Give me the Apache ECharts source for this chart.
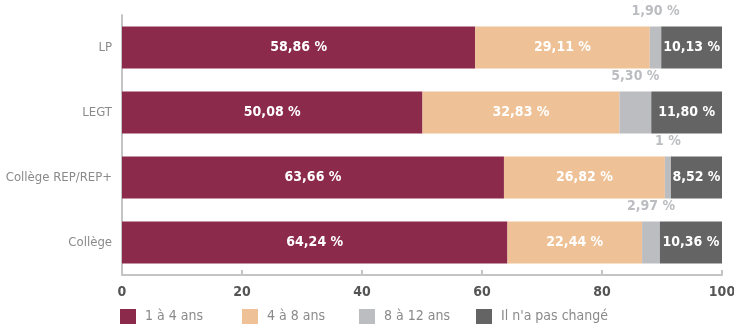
<!DOCTYPE html>
<html><head><meta charset="utf-8">
<script src="https://cdn.jsdelivr.net/npm/echarts@6/dist/echarts.min.js"></script>
<style>html,body{margin:0;padding:0;background:#fff}#c{width:734px;height:325px}</style>
</head><body><div id="c"></div>
<script>
const categories = ['Collège', 'Collège REP/REP+', 'LEGT', 'LP'];
const seriesNames = ['1 à 4 ans', '4 à 8 ans', '8 à 12 ans', "Il n'a pas changé"];
const s1 = [64.24, 63.66, 50.08, 58.86];
const s2 = [22.44, 26.82, 32.83, 29.11];
const s3 = [2.97, 1, 5.30, 1.90];
const s4 = [10.36, 8.52, 11.80, 10.13];
const l1 = ['64,24 %', '63,66 %', '50,08 %', '58,86 %'];
const l2 = ['22,44 %', '26,82 %', '32,83 %', '29,11 %'];
const l3 = ['2,97 %', '1 %', '5,30 %', '1,90 %'];
const l4 = ['10,36 %', '8,52 %', '11,80 %', '10,13 %'];
const xTicks = [0, 20, 40, 60, 80, 100];

const FONT = "'DejaVu Sans Condensed', sans-serif";
const colors = ['#8b2a4b', '#eec196', '#bcbdc1', '#646464'];
const values = [s1, s2, s3, s4];
const labels = [l1, l2, l3, l4];

const chart = echarts.init(document.getElementById('c'), null, {renderer: 'canvas'});
const series = values.map((v, i) => ({
  name: seriesNames[i],
  type: 'bar',
  stack: 'total',
  barWidth: 42,
  itemStyle: {color: colors[i]},
  label: {
    show: true,
    position: i === 2 ? 'top' : 'inside',
    distance: 8,
    color: i === 2 ? '#bcbdc1' : '#ffffff',
    fontFamily: FONT,
    fontWeight: 'bold',
    fontSize: 14,
    formatter: p => labels[i][p.dataIndex]
  },
  data: v
}));
const legendLefts = [120, 242, 359, 476];
const legends = seriesNames.map((n, i) => ({
  data: [n], left: legendLefts[i], top: 309, itemWidth: 16, itemHeight: 15,
  icon: 'rect', itemGap: 0, padding: 0,
  textStyle: {color: '#8a8a8a', fontSize: 14, fontFamily: FONT, padding: [0,0,0,4]}
}));
chart.setOption({
  animation: false,
  legend: legends,
  grid: {left: 122, right: 12, top: 15, bottom: 50, containLabel: false, outerBoundsMode: 'none'},
  xAxis: {
    type: 'value', min: xTicks[0], max: xTicks[xTicks.length-1], interval: 20,
    axisLine: {show: true, lineStyle: {color: '#c4c4c4', width: 2}},
    axisTick: {show: true, inside: true, length: 5, lineStyle: {color: '#c4c4c4', width: 2}},
    splitLine: {show: false},
    axisLabel: {color: '#555555', fontFamily: FONT, fontWeight: 'bold', fontSize: 14, margin: 10}
  },
  yAxis: {
    type: 'category', data: categories,
    axisLine: {show: true, lineStyle: {color: '#c4c4c4', width: 2}},
    axisTick: {show: false},
    axisLabel: {color: '#8a8a8a', fontFamily: FONT, fontSize: 13, margin: 10}
  },
  series: series
});
</script></body></html>
